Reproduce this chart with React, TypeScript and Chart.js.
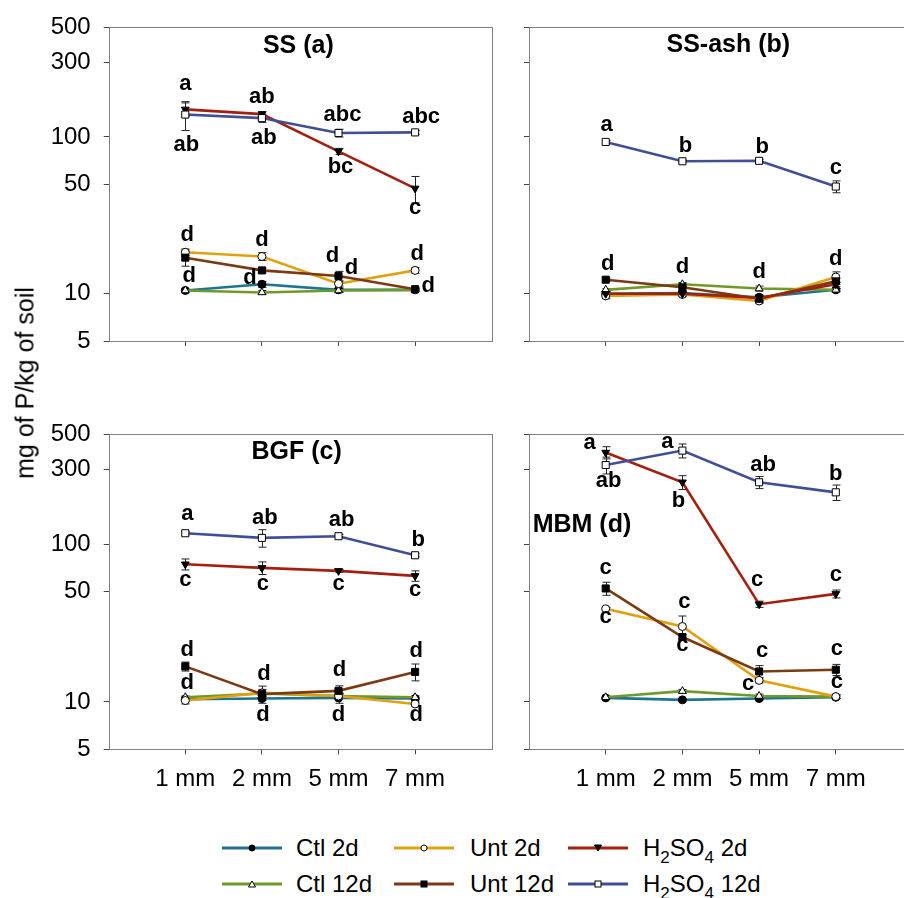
import React, { useEffect, useRef } from 'react';
import { Chart, registerables } from 'chart.js';
Chart.register(...registerables);

// ---------- data ----------
const categories = ['1 mm', '2 mm', '5 mm', '7 mm'];
const yTickValues = [5, 10, 50, 100, 300, 500];
const seriesNames = ['Ctl 2d', 'Ctl 12d', 'Unt 2d', 'Unt 12d', 'H2SO4 2d', 'H2SO4 12d'];

// SS (a)
const ssCtl2d = [10.5, 11.5, 10.6, 10.6];
const ssCtl12d = [10.5, 10.2, 10.5, 10.6];
const ssUnt2d = [18.4, 17.3, 11.6, 14.1];
const ssUnt12d = [17.0, 14.1, 13.0, 10.7];
const ssAcid2d = [150, 140, 81, 47];
const ssAcid12d = [139, 132, 106, 107];
const ssCtl2dErr = [0.2, 0.5, 0.3, 0.2];
const ssCtl12dErr = [0.2, 0.3, 0.3, 0.2];
const ssUnt2dErr = [0.9, 1.0, 0.4, 0.6];
const ssUnt12dErr = [2.0, 0.5, 0.9, 0.3];
const ssAcid2dErr = [15, 5, 3.6, 9];
const ssAcid12dErr = [29, 8, 6, 3];

// SS-ash (b)
const ashCtl2d = [10.0, 10.1, 9.5, 10.6];
const ashCtl12d = [10.6, 11.5, 10.8, 10.6];
const ashUnt2d = [9.7, 9.9, 9.0, 12.8];
const ashUnt12d = [12.3, 11.0, 9.3, 12.0];
const ashAcid2d = [10.0, 10.0, 9.4, 11.5];
const ashAcid12d = [93, 70, 70.5, 48.3];
const ashCtl2dErr = [0.3, 0.3, 0.3, 0.2];
const ashCtl12dErr = [0.2, 0.3, 0.4, 0.2];
const ashUnt2dErr = [0.4, 0.3, 0.3, 1.0];
const ashUnt12dErr = [0.3, 0.5, 0.5, 0.5];
const ashAcid2dErr = [0.3, 0.3, 0.3, 0.4];
const ashAcid12dErr = [2, 1.5, 1.5, 4.2];

// BGF (c)
const bgfCtl2d = [10.4, 10.5, 10.6, 10.5];
const bgfCtl12d = [10.7, 11.3, 10.9, 10.7];
const bgfUnt2d = [10.2, 11.4, 10.9, 9.7];
const bgfUnt12d = [16.8, 11.2, 11.75, 15.5];
const bgfAcid2d = [74.8, 70.9, 67.9, 63.1];
const bgfAcid12d = [117.7, 110, 112.7, 85.3];
const bgfCtl2dErr = [0.3, 0.3, 0.8, 0.2];
const bgfCtl12dErr = [0.2, 0.3, 0.3, 0.2];
const bgfUnt2dErr = [0.5, 0.6, 0.4, 0.3];
const bgfUnt12dErr = [1.1, 1.4, 0.9, 1.9];
const bgfAcid2dErr = [6, 6.5, 1.5, 4.8];
const bgfAcid12dErr = [3, 14, 3, 2];

// MBM (d)
const mbmCtl2d = [10.6, 10.3, 10.5, 10.7];
const mbmCtl12d = [10.7, 11.7, 10.9, 10.8];
const mbmUnt2d = [39.0, 30.1, 13.7, 10.8];
const mbmUnt12d = [52.5, 25.8, 15.6, 16.0];
const mbmAcid2d = [383, 248, 41.7, 48.5];
const mbmAcid12d = [319, 394, 248, 214];
const mbmCtl2dErr = [0.2, 0.2, 0.3, 0.2];
const mbmCtl12dErr = [0.2, 0.3, 0.3, 0.3];
const mbmUnt2dErr = [0.8, 5, 0.5, 0.3];
const mbmUnt12dErr = [5, 1.0, 1.4, 1.3];
const mbmAcid2dErr = [34, 25, 1.9, 2.8];
const mbmAcid12dErr = [39, 40, 22, 24];

// significance letters: [series, category, text]
const ssLetters: [number, number, string][] = [
  [4, 0, 'a'], [5, 0, 'ab'], [4, 1, 'ab'], [5, 1, 'ab'], [5, 2, 'abc'], [4, 2, 'bc'], [5, 3, 'abc'], [4, 3, 'c'],
  [2, 0, 'd'], [0, 0, 'd'], [2, 1, 'd'], [0, 1, 'd'], [3, 2, 'd'], [3, 2, 'd'], [2, 3, 'd'], [3, 3, 'd'],
];
const ashLetters: [number, number, string][] = [
  [5, 0, 'a'], [5, 1, 'b'], [5, 2, 'b'], [5, 3, 'c'],
  [3, 0, 'd'], [1, 1, 'd'], [1, 2, 'd'], [2, 3, 'd'],
];
const bgfLetters: [number, number, string][] = [
  [5, 0, 'a'], [5, 1, 'ab'], [5, 2, 'ab'], [5, 3, 'b'],
  [4, 0, 'c'], [4, 1, 'c'], [4, 2, 'c'], [4, 3, 'c'],
  [3, 0, 'd'], [1, 0, 'd'], [1, 1, 'd'], [0, 1, 'd'], [3, 2, 'd'], [0, 2, 'd'], [3, 3, 'd'], [2, 3, 'd'],
];
const mbmLetters: [number, number, string][] = [
  [4, 0, 'a'], [5, 0, 'ab'], [5, 1, 'a'], [4, 1, 'b'], [5, 2, 'ab'], [5, 3, 'b'], [4, 2, 'c'], [4, 3, 'c'],
  [3, 0, 'c'], [2, 0, 'c'], [2, 1, 'c'], [3, 1, 'c'], [3, 2, 'c'], [2, 2, 'c'], [3, 3, 'c'], [3, 3, 'c'],
];

// ---------- layout (pixel offsets of letters relative to their point) ----------
const ssLetterOffsets = [
  [0, -23], [1, 30], [0, -17], [2, 20], [4, -18], [2, 16], [6, -15], [0, 22],
  [2, -17], [4, -15], [0, -17], [-12, -6], [-6, -20], [13, -8], [2, -16], [13, -3],
];
const ashLetterOffsets = [
  [1, -15], [3, -15], [3, -14], [0, -17],
  [2, -16], [0, -17], [0, -17], [0, -18],
];
const bgfLetterOffsets = [
  [2, -17], [3, -20], [3, -16], [3, -15],
  [0, 18], [1, 18], [0, 15], [0, 16],
  [2, -16], [2, -14], [2, -20], [1, 16], [1, -21], [0, 17], [1, -21], [1, 11],
];
const mbmLetterOffsets = [
  [-16, -8], [3, 16], [-15, -7], [-4, 19], [4, -17], [0, -18], [-2, -22], [0, -17],
  [0, -19], [0, 10], [2, -23], [0, 10], [3, -19], [-11, 6], [1, -19], [1, 14],
];

const seriesStyles = [
  { color: '#1B7590', style: 'circle', rotation: 0, filled: true, radius: 4 },
  { color: '#6F9A2A', style: 'triangle', rotation: 0, filled: false, radius: 4.5 },
  { color: '#E0A010', style: 'circle', rotation: 0, filled: false, radius: 4 },
  { color: '#7A3A12', style: 'rect', rotation: 0, filled: true, radius: 5 },
  { color: '#A3200F', style: 'triangle', rotation: 180, filled: true, radius: 4.5 },
  { color: '#404F95', style: 'rect', rotation: 0, filled: false, radius: 5 },
];

const FONT = '"Liberation Sans", Arial, sans-serif';

type PanelCfg = {
  title: string; titleDx: number; titleDy: number; titleAlign: CanvasTextAlign;
  values: number[][]; errors: number[][];
  letters: [number, number, string][]; offsets: number[][];
  showY: boolean; showX: boolean;
  box: { left: number; top: number; w: number; h: number };
  pad: { top: number; right: number; bottom: number; left: number };
  yWidth: number; xHeight: number;
};

const panels: PanelCfg[] = [
  {
    title: 'SS (a)', titleDx: 189.6, titleDy: 18.3, titleAlign: 'center',
    values: [ssCtl2d, ssCtl12d, ssUnt2d, ssUnt12d, ssAcid2d, ssAcid12d],
    errors: [ssCtl2dErr, ssCtl12dErr, ssUnt2dErr, ssUnt12dErr, ssAcid2dErr, ssAcid12dErr],
    letters: ssLetters, offsets: ssLetterOffsets, showY: true, showX: false,
    box: { left: 0, top: 0, w: 500, h: 380 }, pad: { top: 25.7, right: 8.3, bottom: 0, left: 0 },
    yWidth: 108.7, xHeight: 39,
  },
  {
    title: 'SS-ash (b)', titleDx: 199.3, titleDy: 17.6, titleAlign: 'center',
    values: [ashCtl2d, ashCtl12d, ashUnt2d, ashUnt12d, ashAcid2d, ashAcid12d],
    errors: [ashCtl2dErr, ashCtl12dErr, ashUnt2dErr, ashUnt12dErr, ashAcid2dErr, ashAcid12dErr],
    letters: ashLetters, offsets: ashLetterOffsets, showY: false, showX: false,
    box: { left: 500, top: 0, w: 420, h: 380 }, pad: { top: 25.7, right: 7.5, bottom: 0, left: 0 },
    yWidth: 29, xHeight: 39,
  },
  {
    title: 'BGF (c)', titleDx: 188, titleDy: 18, titleAlign: 'center',
    values: [bgfCtl2d, bgfCtl12d, bgfUnt2d, bgfUnt12d, bgfAcid2d, bgfAcid12d],
    errors: [bgfCtl2dErr, bgfCtl12dErr, bgfUnt2dErr, bgfUnt12dErr, bgfAcid2dErr, bgfAcid12dErr],
    letters: bgfLetters, offsets: bgfLetterOffsets, showY: true, showX: true,
    box: { left: 0, top: 400, w: 500, h: 410 }, pad: { top: 34.3, right: 8.3, bottom: 0, left: 0 },
    yWidth: 108.7, xHeight: 60.7,
  },
  {
    title: 'MBM (d)', titleDx: 3.7, titleDy: 90.7, titleAlign: 'left',
    values: [mbmCtl2d, mbmCtl12d, mbmUnt2d, mbmUnt12d, mbmAcid2d, mbmAcid12d],
    errors: [mbmCtl2dErr, mbmCtl12dErr, mbmUnt2dErr, mbmUnt12dErr, mbmAcid2dErr, mbmAcid12dErr],
    letters: mbmLetters, offsets: mbmLetterOffsets, showY: false, showX: true,
    box: { left: 500, top: 400, w: 420, h: 410 }, pad: { top: 34.3, right: 7.5, bottom: 0, left: 0 },
    yWidth: 29, xHeight: 60.7,
  },
];

function buildChart(canvas: HTMLCanvasElement, cfg: PanelCfg) {
  const deco = {
    id: 'deco',
    beforeDatasetsDraw(chart: any) {
      const ctx = chart.ctx;
      const xs = chart.scales.x;
      const ys = chart.scales.y;
      ctx.save();
      ctx.strokeStyle = '#222';
      ctx.lineWidth = 1;
      cfg.errors.forEach((errs, si) => {
        errs.forEach((e, i) => {
          const v = cfg.values[si][i];
          if (!e) return;
          const px = Math.round(xs.getPixelForValue(i)) + 0.5;
          const t = ys.getPixelForValue(v + e);
          const b = ys.getPixelForValue(Math.max(v - e, 0.001));
          ctx.beginPath();
          ctx.moveTo(px, t); ctx.lineTo(px, b);
          ctx.moveTo(px - 4, t); ctx.lineTo(px + 4, t);
          ctx.moveTo(px - 4, b); ctx.lineTo(px + 4, b);
          ctx.stroke();
        });
      });
      ctx.restore();
    },
    afterDatasetsDraw(chart: any) {
      const ctx = chart.ctx;
      const a = chart.chartArea;
      const xs = chart.scales.x;
      const ys = chart.scales.y;
      ctx.save();
      ctx.strokeStyle = '#808080';
      ctx.lineWidth = 1;
      ctx.strokeRect(Math.round(a.left) + 0.5, Math.round(a.top) + 0.5, Math.round(a.right - a.left), Math.round(a.bottom - a.top));
      ctx.fillStyle = '#000';
      ctx.font = `bold 25px ${FONT}`;
      ctx.textAlign = cfg.titleAlign;
      ctx.textBaseline = 'middle';
      ctx.fillText(cfg.title, a.left + cfg.titleDx, a.top + cfg.titleDy);
      ctx.font = `bold 22px ${FONT}`;
      ctx.textAlign = 'center';
      cfg.letters.forEach(([si, ci, text], k) => {
        const [dx, dy] = cfg.offsets[k];
        const px = xs.getPixelForValue(ci) + dx;
        const py = ys.getPixelForValue(cfg.values[si][ci]) + dy - (text === 'a' || text === 'c' ? 2 : 0);
        ctx.fillText(text, px, py);
      });
      ctx.restore();
    },
  };

  return new Chart(canvas, {
    type: 'line',
    data: {
      datasets: cfg.values.map((vals, si) => {
        const st = seriesStyles[si];
        return {
          label: seriesNames[si],
          data: vals.map((v, i) => ({ x: i, y: v })),
          borderColor: st.color,
          backgroundColor: st.color,
          borderWidth: 2.6,
          pointStyle: st.style as any,
          pointRotation: st.rotation,
          pointRadius: st.radius,
          pointBackgroundColor: st.filled ? '#000' : '#fff',
          pointBorderColor: '#000',
          pointBorderWidth: 1,
          tension: 0,
          order: 5 - si,
          clip: false as any,
        };
      }),
    },
    options: {
      responsive: false,
      maintainAspectRatio: false,
      animation: false,
      devicePixelRatio: 1,
      layout: { padding: cfg.pad },
      plugins: { legend: { display: false }, tooltip: { enabled: false }, title: { display: false } },
      scales: {
        x: {
          type: 'linear',
          min: -1,
          max: 4,
          bounds: 'data',
          afterBuildTicks: (s: any) => { s.ticks = categories.map((_, i) => ({ value: i })); },
          afterFit: (s: any) => { s.height = cfg.xHeight; },
          grid: { display: true, drawOnChartArea: false, drawTicks: true, tickLength: 5, color: '#444', lineWidth: 1 },
          border: { display: false },
          ticks: {
            autoSkip: false,
            maxRotation: 0,
            minRotation: 0,
            padding: 11,
            color: '#000',
            font: { family: FONT, size: 24 },
            callback: (v: any) => (cfg.showX ? categories[Math.round(Number(v))] : ''),
          },
        },
        y: {
          type: 'logarithmic',
          min: 5,
          max: 500,
          bounds: 'data',
          afterBuildTicks: (s: any) => { s.ticks = yTickValues.map((v) => ({ value: v })); },
          afterFit: (s: any) => { s.width = cfg.yWidth; },
          grid: { display: true, drawOnChartArea: false, drawTicks: true, tickLength: 5, color: '#444', lineWidth: 1 },
          border: { display: false },
          ticks: {
            autoSkip: false,
            padding: 13,
            color: '#000',
            font: { family: FONT, size: 24 },
            callback: (v: any) => (cfg.showY ? String(v) : ''),
          },
        },
      },
    } as any,
    plugins: [deco],
  });
}

function Panel({ cfg }: { cfg: PanelCfg }) {
  const ref = useRef<HTMLCanvasElement>(null);
  useEffect(() => {
    const chart = buildChart(ref.current as HTMLCanvasElement, cfg);
    return () => chart.destroy();
  }, [cfg]);
  return (
    <canvas
      ref={ref}
      width={cfg.box.w}
      height={cfg.box.h}
      style={{ position: 'absolute', left: cfg.box.left, top: cfg.box.top, width: cfg.box.w, height: cfg.box.h }}
    />
  );
}

function Marker({ si }: { si: number }) {
  const st = seriesStyles[si];
  const fill = st.filled ? '#000' : '#fff';
  const cx = 30, cy = 8;
  if (st.style === 'circle') return <circle cx={cx} cy={cy} r={3} fill={fill} stroke="#000" strokeWidth={1} />;
  if (st.style === 'rect') return <rect x={cx - 3} y={cy - 3} width={6} height={6} fill={fill} stroke="#000" strokeWidth={1} />;
  const pts = st.rotation === 180
    ? `${cx - 3.5},${cy - 3} ${cx + 3.5},${cy - 3} ${cx},${cy + 3}`
    : `${cx - 3.5},${cy + 3} ${cx + 3.5},${cy + 3} ${cx},${cy - 3}`;
  return <polygon points={pts} fill={fill} stroke="#000" strokeWidth={1} />;
}

const legendRows = [848, 884];
const legendLineX = [222, 394, 568];
const legendTextX = [296, 470, 643];

function LegendLabel({ si }: { si: number }) {
  const name = seriesNames[si];
  if (name.startsWith('H2SO4')) {
    const rest = name.slice(5);
    const sub = { fontSize: 17, position: 'relative' as const, top: 7 };
    return (
      <>
        H<span style={sub}>2</span>SO<span style={sub}>4</span>{rest}
      </>
    );
  }
  return <>{name}</>;
}

export default function App() {
  return (
    <div style={{ position: 'fixed', left: 0, top: 0, width: 904, height: 898, overflow: 'hidden', background: '#fff' }}>
      {panels.map((p, i) => (
        <Panel key={i} cfg={p} />
      ))}
      <div
        style={{
          position: 'absolute', left: 25, top: 383, transform: 'translate(-50%, -50%) rotate(-90deg)',
          whiteSpace: 'nowrap', fontFamily: FONT, fontSize: 25, color: '#000', lineHeight: 1,
        }}
      >
        mg of P/kg of soil
      </div>
      {seriesNames.map((_, si) => {
        const col = Math.floor(si / 2);
        const row = si % 2;
        const y = legendRows[row];
        return (
          <React.Fragment key={si}>
            <svg width={60} height={16} style={{ position: 'absolute', left: legendLineX[col], top: y - 8 }}>
              <line x1={0} y1={8} x2={60} y2={8} stroke={seriesStyles[si].color} strokeWidth={3} />
              <Marker si={si} />
            </svg>
            <div
              style={{
                position: 'absolute', left: legendTextX[col], top: y, transform: 'translateY(-50%)',
                whiteSpace: 'nowrap', fontFamily: FONT, fontSize: 24, color: '#000', lineHeight: 1,
              }}
            >
              <LegendLabel si={si} />
            </div>
          </React.Fragment>
        );
      })}
    </div>
  );
}
